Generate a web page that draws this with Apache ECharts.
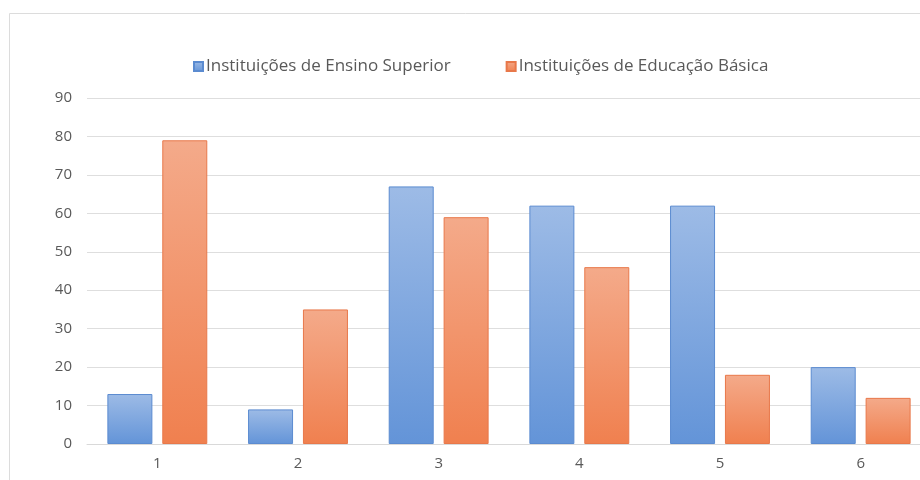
<!DOCTYPE html>
<html>
<head>
<meta charset="utf-8">
<script src="https://cdn.jsdelivr.net/npm/echarts@6/dist/echarts.min.js"></script>
<style>
  html, body { margin: 0; padding: 0; background: #fff; }
  #chart { width: 920px; height: 480px; }
</style>
</head>
<body>
<div id="chart"></div>
<script>
const categories = ['1', '2', '3', '4', '5', '6'];
const ensinoSuperior = [13, 9, 67, 62, 62, 20];
const educacaoBasica = [79, 35, 59, 46, 18, 12];
const yTicks = { min: 0, max: 90, interval: 10 };

const chart = echarts.init(document.getElementById('chart'));

const blueFill = new echarts.graphic.LinearGradient(0, 0, 0, 1, [
    { offset: 0, color: '#9dbbe6' },
    { offset: 1, color: '#6394d8' }
]);
const orangeFill = new echarts.graphic.LinearGradient(0, 0, 0, 1, [
    { offset: 0, color: '#f4aa8a' },
    { offset: 1, color: '#f0804f' }
]);

const option = {
    backgroundColor: '#fff',
    animation: false,
    graphic: [
        {
            type: 'rect',
            shape: { x: 9.5, y: 13.5, width: 1000, height: 1000 },
            style: { fill: 'none', stroke: '#dcdcdc', lineWidth: 1 },
            silent: true
        }
    ],
    // chart is cropped at the right edge, so the grid runs past the canvas
    grid: { top: 98, bottom: 36, left: 87, width: 844, outerBoundsMode: 'none' },
    legend: {
        top: 53,
        left: 188,
        itemWidth: 9,
        itemHeight: 9,
        itemGap: 55,
        icon: 'rect',
        textStyle: { color: '#595959', fontSize: 17, fontFamily: 'Open Sans', padding: [0, 0, 0, -2] },
        data: ['Instituições de Ensino Superior', 'Instituições de Educação Básica']
    },
    xAxis: {
        type: 'category',
        data: categories,
        axisTick: { show: false },
        axisLine: { lineStyle: { color: '#d9d9d9', width: 1 } },
        axisLabel: { color: '#595959', fontSize: 15, fontFamily: 'Open Sans', margin: 12 }
    },
    yAxis: {
        type: 'value',
        min: yTicks.min,
        max: yTicks.max,
        interval: yTicks.interval,
        axisLine: { show: false },
        axisTick: { show: false },
        axisLabel: { color: '#595959', fontSize: 15, fontFamily: 'Open Sans', margin: 15 },
        splitLine: { lineStyle: { color: '#dedede', width: 1 } }
    },
    series: [
        {
            name: 'Instituições de Ensino Superior',
            type: 'bar',
            data: ensinoSuperior,
            barWidth: 45,
            barGap: '22%',
            itemStyle: { color: blueFill, borderColor: '#5b8bd0', borderWidth: 1 }
        },
        {
            name: 'Instituições de Educação Básica',
            type: 'bar',
            data: educacaoBasica,
            barWidth: 45,
            barGap: '22%',
            itemStyle: { color: orangeFill, borderColor: '#e8784a', borderWidth: 1 }
        }
    ]
};

chart.setOption(option);
window.addEventListener('resize', () => chart.resize());
</script>
</body>
</html>
